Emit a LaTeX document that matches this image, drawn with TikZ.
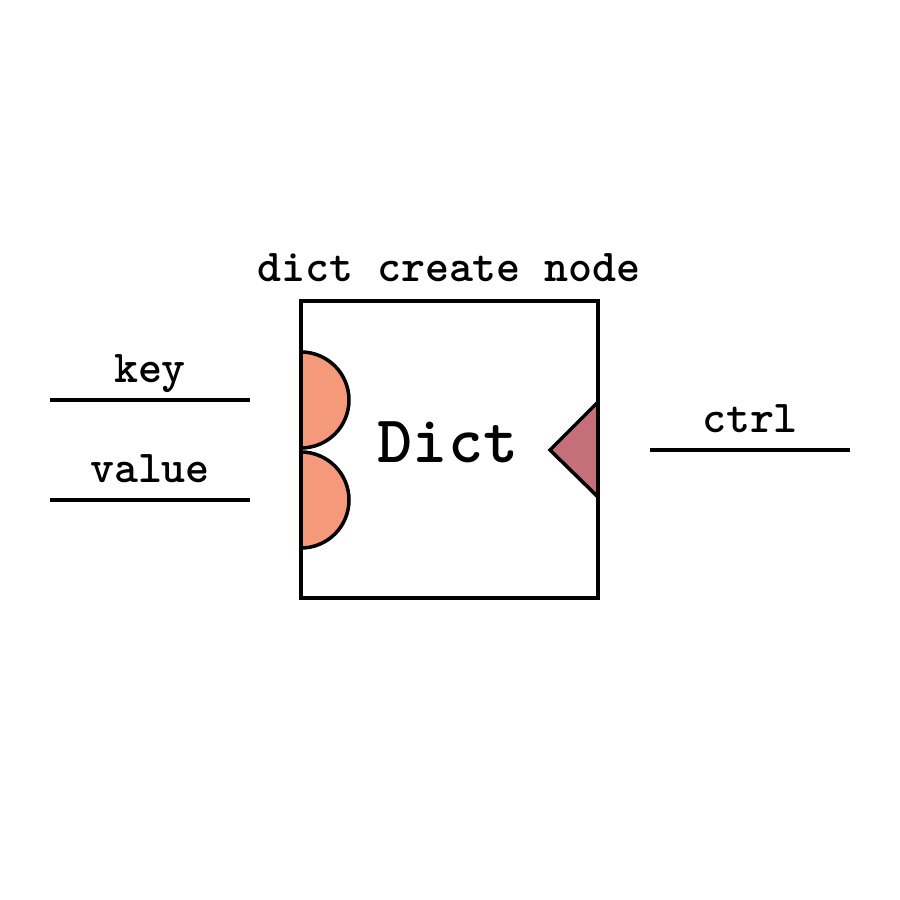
\documentclass[tikz,border=0pt]{standalone}
\usepackage{fontspec}
\usetikzlibrary{positioning}

\definecolor{portin}{HTML}{F4997A}
\definecolor{portctrl}{HTML}{C4707A}

\begin{document}
\begin{tikzpicture}[
  line width=1pt,
  lbl/.style={font=\fontsize{13}{15}\selectfont\ttfamily\bfseries, inner sep=0pt, anchor=base},
  port/.style={draw, fill=portin, line join=round},
  wire/.style={draw}
]
\useasboundingbox (0,0) rectangle (9,9);
% main block
\node[draw, minimum size=2.97cm, inner sep=0pt] (box) at (4.495,4.505) {};
\node[lbl] (title) at (4.49,6.18) {dict create node};
\node[font=\fontsize{19}{22}\selectfont\ttfamily\bfseries, inner sep=0pt, anchor=base] (name) at (4.48,4.37) {Dict};
% input ports
\coordinate (keyport) at (3.01,5.0);
\coordinate (valport) at (3.01,4.0);
\foreach \p in {keyport,valport}
  \draw[port] (\p) ++(0,0.48) arc (90:-90:0.48) -- cycle;
% control port
\coordinate (ctrltop) at (5.98,4.98);
\coordinate (ctrltip) at (5.50,4.50);
\coordinate (ctrlbot) at (5.98,4.03);
\draw[fill=portctrl, line join=miter] (ctrltop) -- (ctrltip) -- (ctrlbot) -- cycle;
% wires
\coordinate (keyA) at (0.5,5.0);  \coordinate (keyB) at (2.5,5.0);
\coordinate (valA) at (0.5,4.0);  \coordinate (valB) at (2.5,4.0);
\coordinate (ctrlA) at (6.5,4.5); \coordinate (ctrlB) at (8.5,4.5);
\draw[wire] (keyA) -- (keyB);
\draw[wire] (valA) -- (valB);
\draw[wire] (ctrlA) -- (ctrlB);
\node[lbl] (keylbl) at (1.5,5.17) {key};
\node[lbl] (vallbl) at (1.5,4.17) {value};
\node[lbl] (ctrllbl) at (7.5,4.67) {ctrl};
\end{tikzpicture}
\end{document}
